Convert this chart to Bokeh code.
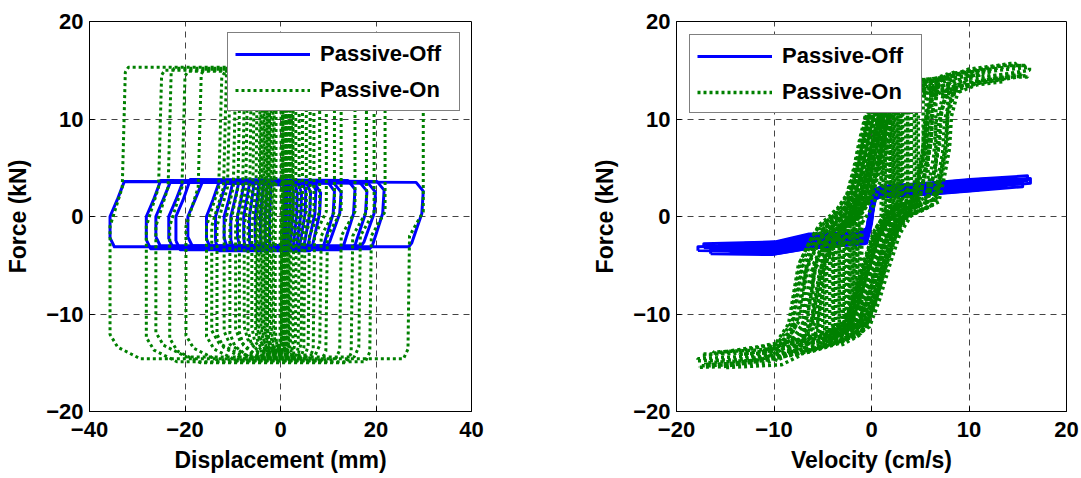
import numpy as np
from bokeh.plotting import figure
from bokeh.layouts import row
from bokeh.models import Legend, LegendItem, FixedTicker, Range1d
from bokeh.embed import file_html
from bokeh.resources import INLINE

# ---------------- tick labels ----------------
disp_ticks = [-40, -20, 0, 20, 40]
force_ticks = [-20, -10, 0, 10, 20]
vel_ticks = [-20, -10, 0, 10, 20]

# ---------------- Left panel: force vs displacement ----------------
# Passive-Off cycles: displacement reversal points (mm) and force plateaus (kN)
off_disp_min = [-35.7, -28.1, -26.1, -23.4, -21.9, -19.4, -15.5, -13.6, -11.8, -10.4, -9.0, -7.7, -6.5, -5.3, -4.2, -3.2, -2.3]
off_disp_max = [29.9, 21.7, 19.9, 18.1, 15.6, 12.7, 11.3, 8.4, 7.4, 6.3, 5.3, 4.4, 3.5, 2.7, 2.0, 1.3, 0.8]
off_force_top = [3.6, 3.7, 3.5, 3.6, 3.8, 3.5, 3.6, 3.4, 3.7, 3.5, 3.6, 3.4, 3.5, 3.6, 3.3, 3.5, 3.4]
off_force_bot = [-3.1, -3.3, -3.0, -3.2, -3.4, -3.0, -3.2, -3.5, -3.1, -3.3, -3.0, -3.2, -3.4, -3.1, -3.0, -3.2, -3.1]

# Passive-On cycles
on_disp_min = [-35.7, -28.1, -26.1, -23.2, -19.8, -15.5, -14.4, -13.3, -11.8, -10.6, -9.4, -8.6, -7.6, -6.8,
               -6.0, -5.2, -4.9, -4.5, -4.1, -3.8, -3.5, -3.2, -2.9, -2.7, -2.3, -1.9, -1.5, -1.1]
on_disp_max = [29.9, 21.9, 19.6, 18.0, 15.6, 12.7, 11.3, 9.6, 8.2, 7.0, 6.2, 5.4, 4.6, 3.9,
               3.2, 2.6, 2.3, 2.0, 1.7, 1.5, 2.6, 1.1, 1.3, 0.8, 0.5, 0.9, 0.1, 0.4]
on_force_top = [15.3, 15.0, 15.2, 14.9, 15.1, 14.8, 15.0, 14.6, 14.9, 14.7, 14.8, 14.5, 14.7, 14.6,
                14.8, 14.5, 14.6, 14.4, 14.6, 14.5, 14.3, 14.6, 14.4, 14.5, 14.2, 14.4, 14.3, 14.5]
on_force_bot = [-14.6, -14.9, -14.4, -15.0, -14.7, -14.8, -14.2, -14.6, -14.3, -14.5, -14.0, -14.4, -13.8, -14.2,
                -13.9, -14.1, -13.7, -14.0, -13.6, -13.9, -13.5, -13.8, -13.4, -13.7, -13.2, -13.5, -13.0, -13.3]

# ---------------- Right panel: force vs velocity ----------------
# Passive-On envelope branches (cm/s, kN)
on_inc_v = [-17.8, -14.0, -10.0, -5.0, -2.0, -0.2, 0.8, 1.8, 2.9, 4.2, 6.9, 7.5, 8.0, 8.2, 9.0, 12.0, 16.2]
on_inc_F = [-14.8, -14.7, -14.1, -13.2, -12.3, -11.3, -8.6, -5.2, -1.8, 0.3, 1.5, 4.2, 7.0, 10.3, 13.3, 14.3, 15.0]
on_dec_v = [16.2, 12.0, 8.0, 6.0, 2.0, 0.3, -0.6, -1.3, -1.8, -2.6, -3.8, -5.5, -6.3, -7.5, -8.5, -10.0, -12.0, -17.8]
on_dec_F = [15.3, 14.9, 14.4, 13.6, 13.2, 12.6, 10.5, 7.5, 5.0, 2.0, 0.2, -1.2, -2.5, -5.0, -11.0, -13.3, -14.3, -14.6]
# Passive-On cycles: velocity peaks, branch lag, force offset
on_vel_min = [-17.8, -17.6, -17.3, -17.0, -16.2, -15.0, -13.5, -12.2,
              -11.0, -9.8, -9.0, -8.5, -8.1, -7.7, -7.3, -6.9, -6.5, -6.0, -5.5, -5.0,
              -4.6, -4.3, -4.0, -3.7, -3.4, -3.1, -2.9, -2.6, -2.4, -2.2, -2.0, -1.8, -1.6, -1.4, -1.2, -1.0,
              -3.9, -3.3, -2.8, -2.3, -1.9, -1.5, -4.8, -5.3]
on_vel_max = [16.2, 16.0, 15.7, 15.4, 14.8, 13.6, 12.2, 11.0,
              10.0, 9.0, 8.5, 8.1, 7.8, 7.4, 7.0, 6.6, 6.2, 5.8, 5.3, 4.8,
              4.4, 4.1, 3.8, 3.5, 3.2, 3.0, 2.8, 2.6, 2.4, 2.2, 2.0, 1.8, 1.6, 1.4, 1.2, 1.0,
              3.7, 3.1, 2.7, 2.3, 1.9, 1.5, 4.6, 5.6]
on_vel_lag = [0.0, 1.3, 2.5, 0.7, 1.9, 2.8, 1.1, 0.4,
              0.4, 2.2, 1.0, 2.6, 0.2, 1.6, 2.4, 0.8, 1.9, 1.2, 2.7, 0.5,
              1.0, 2.3, 0.3, 1.7, 2.6, 0.9, 2.0, 1.3, 0.5, 2.4, 1.1, 1.8, 0.7, 2.2, 1.5, 0.4,
              1.4, 0.6, 2.1, 1.6, 0.9, 2.5, 1.8, 2.2]
on_vel_dF = [0.0, -0.7, 0.5, -0.4, 0.7, -0.9, 0.3, -0.2,
             0.3, -0.5, 0.6, -0.2, 0.4, -0.7, 0.1, -0.4, 0.5, -0.6, 0.2, -0.1,
             0.4, -0.3, 0.6, -0.5, 0.2, -0.8, 0.3, -0.2, 0.7, -0.4, 0.1, -0.6, 0.5, -0.1, 0.3, -0.3,
             -0.5, 0.4, -0.2, 0.6, -0.7, 0.2, 0.0, -0.4]

# Passive-Off envelope branches
off_inc_v = [-17.8, -10.0, -6.5, -3.0, -0.5, 0.0, 0.3, 1.0, 6.5, 10.0, 16.3]
off_inc_F = [-3.5, -3.6, -3.0, -2.7, -2.5, -0.5, 2.0, 2.3, 2.6, 2.9, 3.4]
off_dec_v = [16.3, 10.0, 6.5, 1.0, 0.3, -0.2, -0.5, -1.5, -6.5, -10.0, -17.8]
off_dec_F = [3.9, 3.5, 3.2, 2.8, 2.5, 0.2, -1.5, -2.0, -2.1, -2.9, -3.1]
off_vel_min = [-17.8, -17.2, -16.5, -15.6, -14.5, -13.0, -11.5, -10.0, -8.5, -7.0, -5.5, -4.0]
off_vel_max = [16.3, 16.0, 15.5, 14.8, 13.8, 12.5, 11.0, 9.6, 8.2, 6.8, 5.3, 3.8]
off_vel_lag = [0.0, 0.1, 0.2, 0.0, 0.1, 0.2, 0.0, 0.1, 0.2, 0.0, 0.1, 0.2]
off_vel_dF = [0.0, 0.3, -0.3, 0.15, -0.15, 0.25, -0.25, 0.1, -0.1, 0.2, -0.2, 0.05]

BLUE = "#0000FF"
GREEN = "#008000"
FONT = "Liberation Sans"


def off_disp_loop(xl, xr, top, bot):
    s = min(3.0, 0.1 * (xr - xl))
    xs = [xl, xl, xl + 0.5 * s, xl + s, xr - 0.5 * s, xr, xr - 0.1 * s, xr - 0.8 * s, xr - s, xl + 0.3 * s, xl]
    ys = [bot + 0.9, 0.0, 1.7, top, top - 0.1, top - 1.0, 0.3, bot + 0.4, bot, bot, bot + 0.9]
    return xs, ys


def on_disp_loop(xl, xr, top, bot):
    s = min(3.2, 0.12 * (xr - xl))
    xs = [xr, xr, xr - 0.9 * s, xr - s, xr - 1.3 * s, xl + 2 * s, xl + 0.5 * s, xl, xl,
          xl + 0.8 * s, xl + s, xl + 1.2 * s, xr - 0.3 * s, xr]
    ys = [top - 1.0, 0.5, -2.0, bot + 1.0, bot, bot, bot + 1.2, bot + 2.5, -1.0,
          3.0, top - 0.5, top, top, top - 1.0]
    return xs, ys


def fv_loop(vmin, vmax, lag, dF, inc_v, inc_F, dec_v, dec_F):
    iv = np.array(inc_v) - lag
    iF = np.array(inc_F) + dF
    dv = np.array(dec_v)[::-1] + lag
    dFv = np.array(dec_F)[::-1] + dF
    mi = (iv > vmin) & (iv < vmax)
    md = (dv > vmin) & (dv < vmax)
    xs = [vmin] + list(iv[mi]) + [vmax]
    ys = [np.interp(vmin, iv, iF)] + list(iF[mi]) + [np.interp(vmax, iv, iF)]
    xs += [vmax] + list(dv[md][::-1]) + [vmin, vmin]
    ys += [np.interp(vmax, dv, dFv)] + list(dFv[md][::-1]) + [np.interp(vmin, dv, dFv), ys[0]]
    return [float(a) for a in xs], [float(b) for b in ys]


def style(p, xticks, yticks, xlabel, ylabel):
    p.xaxis.ticker = FixedTicker(ticks=xticks)
    p.yaxis.ticker = FixedTicker(ticks=yticks)
    p.xaxis.axis_label = xlabel
    p.yaxis.axis_label = ylabel
    for ax in (p.xaxis[0], p.yaxis[0]):
        ax.axis_label_text_font = FONT
        ax.axis_label_text_font_style = "bold"
        ax.axis_label_text_font_size = "23px"
        ax.axis_label_text_color = "black"
        ax.major_label_text_font = FONT
        ax.major_label_text_font_style = "bold"
        ax.major_label_text_font_size = "22px"
        ax.major_label_text_color = "black"
        ax.major_tick_in = 5
        ax.major_tick_out = 0
        ax.minor_tick_line_color = None
        ax.axis_line_color = "black"
        ax.major_tick_line_color = "black"
    p.xaxis.major_label_standoff = 10
    p.xaxis.axis_label_standoff = 7
    p.yaxis.major_label_standoff = 6
    p.yaxis.axis_label_standoff = 12
    for g in (p.xgrid[0], p.ygrid[0]):
        g.grid_line_color = "#444444"
        g.grid_line_dash = "6 5"
        g.grid_line_width = 1
    p.outline_line_color = "black"
    p.outline_line_width = 1
    p.outline_line_alpha = 1
    p.background_fill_color = "white"
    p.border_fill_color = "white"


def make_legend(p, r_off, r_on, loc, margin):
    leg = Legend(items=[LegendItem(label="Passive-Off", renderers=[r_off]),
                        LegendItem(label="Passive-On", renderers=[r_on])])
    leg.location = loc
    leg.margin = margin
    leg.padding = 7
    leg.spacing = 9
    leg.glyph_width = 75
    leg.glyph_height = 26
    leg.label_height = 27
    leg.label_width = 132
    leg.label_standoff = 10
    leg.label_text_font = FONT
    leg.label_text_font_style = "bold"
    leg.label_text_font_size = "22px"
    leg.label_text_color = "black"
    leg.border_line_color = "black"
    leg.border_line_width = 1
    leg.background_fill_color = "white"
    leg.background_fill_alpha = 1
    p.add_layout(leg)


# ---- left figure ----
p1 = figure(width=540, height=478, x_range=Range1d(-40, 40), y_range=Range1d(-20, 20),
            output_backend="svg", toolbar_location=None,
            min_border_left=89, min_border_right=69, min_border_top=21, min_border_bottom=66)
style(p1, disp_ticks, force_ticks, "Displacement (mm)", "Force (kN)")

off_xs, off_ys = [], []
for xl, xr, t, b in zip(off_disp_min, off_disp_max, off_force_top, off_force_bot):
    xs, ys = off_disp_loop(xl, xr, t, b)
    off_xs.append(xs)
    off_ys.append(ys)
on_xs, on_ys = [], []
for xl, xr, t, b in zip(on_disp_min, on_disp_max, on_force_top, on_force_bot):
    xs, ys = on_disp_loop(xl, xr, t, b)
    on_xs.append(xs)
    on_ys.append(ys)

r1_off = p1.multi_line(off_xs, off_ys, line_color=BLUE, line_width=3, line_join="round")
r1_on = p1.multi_line(on_xs, on_ys, line_color=GREEN, line_width=3, line_dash="3 3", line_cap="butt")
make_legend(p1, r1_off, r1_on, "top_right", 11)

# ---- right figure ----
p2 = figure(width=541, height=478, x_range=Range1d(-20, 20), y_range=Range1d(-20, 20),
            output_backend="svg", toolbar_location=None,
            min_border_left=136, min_border_right=15, min_border_top=19, min_border_bottom=67)
style(p2, vel_ticks, force_ticks, "Velocity (cm/s)", "Force (kN)")

v_off_xs, v_off_ys = [], []
for a, b, lg, d in zip(off_vel_min, off_vel_max, off_vel_lag, off_vel_dF):
    xs, ys = fv_loop(a, b, lg, d, off_inc_v, off_inc_F, off_dec_v, off_dec_F)
    v_off_xs.append(xs)
    v_off_ys.append(ys)
v_on_xs, v_on_ys = [], []
for a, b, lg, d in zip(on_vel_min, on_vel_max, on_vel_lag, on_vel_dF):
    xs, ys = fv_loop(a, b, lg, d, on_inc_v, on_inc_F, on_dec_v, on_dec_F)
    v_on_xs.append(xs)
    v_on_ys.append(ys)

r2_off = p2.multi_line(v_off_xs, v_off_ys, line_color=BLUE, line_width=3, line_join="round")
r2_on = p2.multi_line(v_on_xs, v_on_ys, line_color=GREEN, line_width=3.5, line_dash="3 3", line_cap="butt")
make_legend(p2, r2_off, r2_on, "top_left", 13)

layout = row(p1, p2)
open("out.html", "w").write(file_html(layout, INLINE))
